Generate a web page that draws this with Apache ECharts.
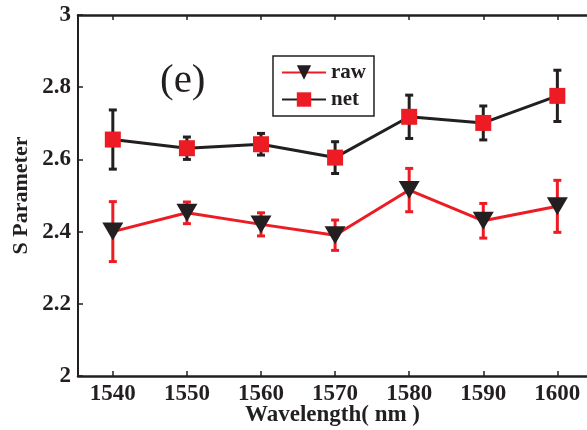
<!DOCTYPE html>
<html><head><meta charset="utf-8">
<script src="https://cdn.jsdelivr.net/npm/echarts@6/dist/echarts.min.js"></script>
<style>html,body{margin:0;padding:0;background:#fff}#c{width:587px;height:430px}</style>
</head><body><div id="c"></div>
<script>
const wavelengths = [1540, 1550, 1560, 1570, 1580, 1590, 1600];
const rawValues = [2.40, 2.452, 2.42, 2.39, 2.515, 2.43, 2.47];
const rawErr = [0.083, 0.03, 0.032, 0.042, 0.06, 0.048, 0.072];
const netValues = [2.655, 2.631, 2.642, 2.605, 2.718, 2.701, 2.776];
const netErr = [0.082, 0.031, 0.03, 0.044, 0.06, 0.047, 0.071];
const yTicks = [2, 2.2, 2.4, 2.6, 2.8, 3];

const RED = '#ed1c24', BLACK = '#231f20';
const FONT = 'Liberation Serif';

function errData(vals, errs) {
  return wavelengths.map((w, i) => [w, vals[i] - errs[i], vals[i] + errs[i]]);
}
function errRender(color) {
  return function (params, api) {
    const x = api.value(0);
    const lo = api.coord([x, api.value(1)]);
    const hi = api.coord([x, api.value(2)]);
    const hw = 4;
    const st = { stroke: color, lineWidth: 3 };
    return { type: 'group', children: [
      { type: 'line', shape: { x1: lo[0], y1: lo[1], x2: hi[0], y2: hi[1] }, style: st },
      { type: 'line', shape: { x1: lo[0] - hw, y1: lo[1], x2: lo[0] + hw, y2: lo[1] }, style: st },
      { type: 'line', shape: { x1: hi[0] - hw, y1: hi[1], x2: hi[0] + hw, y2: hi[1] }, style: st }
    ]};
  };
}

const chart = echarts.init(document.getElementById('c'), null, { renderer: 'canvas' });
const axisCommon = {
  type: 'value', min: 1535.3, max: 1604,
  axisLine: { lineStyle: { color: BLACK, width: 2.5 } },
  axisTick: { inside: true, length: 5, customValues: wavelengths, lineStyle: { color: BLACK, width: 1.5 } },
  splitLine: { show: false }
};
chart.setOption({
  animation: false,
  grid: { left: 78, top: 15, right: 0, height: 361, containLabel: false, outerBoundsMode: 'none' },
  xAxis: [
    Object.assign({}, axisCommon, {
      position: 'bottom',
      name: 'Wavelength( nm )', nameLocation: 'middle', nameGap: 28, nameMoveOverlap: false,
      nameTextStyle: { fontFamily: FONT, fontWeight: 'bold', fontSize: 23, color: BLACK },
      axisLabel: { customValues: wavelengths, formatter: v => String(v), margin: 7, fontFamily: FONT, fontWeight: 'bold', fontSize: 23, color: BLACK }
    }),
    Object.assign({}, axisCommon, { position: 'top', axisLabel: { show: false } })
  ],
  yAxis: {
    type: 'value', min: 2, max: 3, interval: 0.2,
    name: 'S Parameter', nameLocation: 'middle', nameGap: 46, nameRotate: 90, nameMoveOverlap: false,
    nameTextStyle: { fontFamily: FONT, fontWeight: 'bold', fontSize: 22, color: BLACK },
    axisLine: { show: true, lineStyle: { color: BLACK, width: 2 } },
    axisTick: { show: true, inside: true, length: 5, lineStyle: { color: BLACK, width: 1.5 } },
    axisLabel: { margin: 7, fontFamily: FONT, fontWeight: 'bold', fontSize: 23, color: BLACK },
    splitLine: { show: false }
  },
  legend: {
    data: ['raw', 'net'], orient: 'vertical',
    left: 273, top: 56, padding: [6, 8, 6, 8], itemGap: 6,
    itemWidth: 44, itemHeight: 18,
    borderColor: BLACK, borderWidth: 1.5, borderRadius: 0,
    textStyle: { fontFamily: FONT, fontWeight: 'bold', fontSize: 21, color: BLACK }
  },
  graphic: [{
    type: 'text', left: 160, top: 61,
    style: { text: '(e)', font: '41px "Liberation Serif"', fill: BLACK }
  }],
  series: [
    { name: 'rawErr', type: 'custom', renderItem: errRender(RED), data: errData(rawValues, rawErr), z: 1, silent: true },
    { name: 'netErr', type: 'custom', renderItem: errRender(BLACK), data: errData(netValues, netErr), z: 1, silent: true },
    {
      name: 'raw', type: 'line', data: wavelengths.map((w, i) => [w, rawValues[i]]), z: 3,
      lineStyle: { color: RED, width: 3 }, itemStyle: { color: BLACK, borderWidth: 0 },
      symbol: 'triangle', symbolRotate: 180, symbolSize: [21, 18], showAllSymbol: true
    },
    {
      name: 'net', type: 'line', data: wavelengths.map((w, i) => [w, netValues[i]]), z: 3,
      lineStyle: { color: BLACK, width: 3 }, itemStyle: { color: RED, borderWidth: 0 },
      symbol: 'rect', symbolSize: 16, showAllSymbol: true
    }
  ]
});
</script></body></html>
